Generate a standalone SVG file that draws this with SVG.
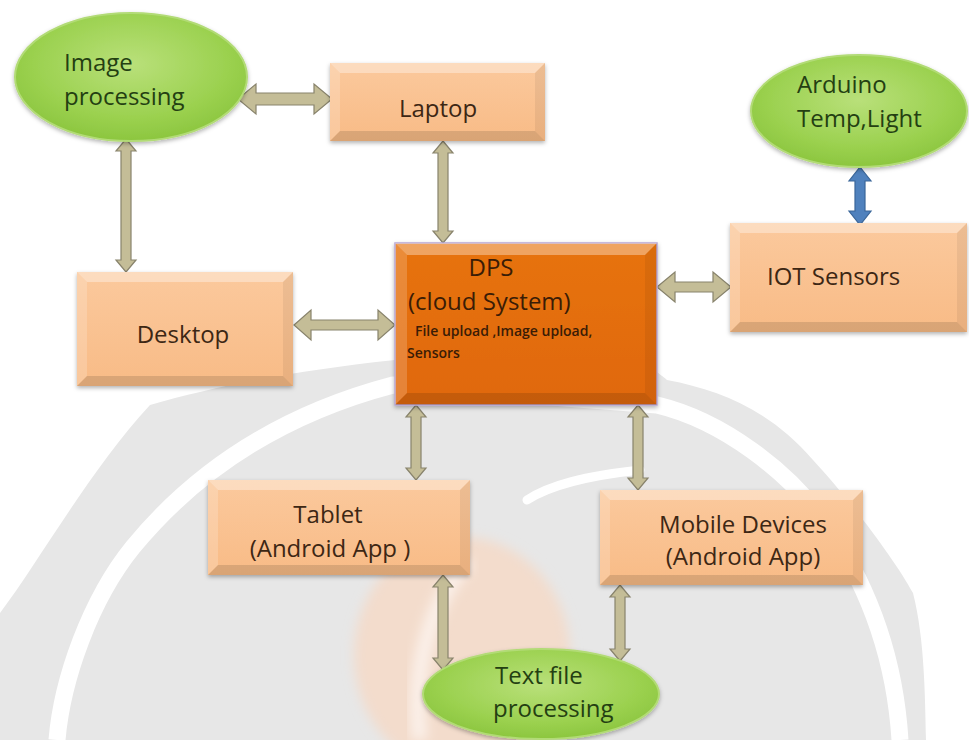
<svg xmlns="http://www.w3.org/2000/svg" width="969" height="740" viewBox="0 0 969 740">
  <defs>
    <linearGradient id="peach" x1="0" y1="0" x2="0" y2="1">
      <stop offset="0" stop-color="#fbc99d"/>
      <stop offset="1" stop-color="#f8bb86"/>
    </linearGradient>
    <linearGradient id="orange" x1="0" y1="0" x2="0" y2="1">
      <stop offset="0" stop-color="#e7730f"/>
      <stop offset="1" stop-color="#e06808"/>
    </linearGradient>
    <radialGradient id="green" cx="0.5" cy="0.4" r="0.6">
      <stop offset="0" stop-color="#b9e07a"/>
      <stop offset="0.7" stop-color="#9bd14f"/>
      <stop offset="1" stop-color="#8cc63f"/>
    </radialGradient>
    <filter id="shadow" x="-10%" y="-10%" width="120%" height="130%">
      <feDropShadow dx="0" dy="2" stdDeviation="2" flood-color="#000" flood-opacity="0.3"/>
    </filter>
    <filter id="soft" x="-20%" y="-20%" width="140%" height="140%">
      <feGaussianBlur stdDeviation="6"/>
    </filter>
  </defs>
  <style>
    .box { fill: url(#peach); }
    .core { fill: url(#orange); stroke: #b7a6d4; stroke-width: 1.5; }
    .oval { fill: url(#green); stroke: #b2db76; stroke-width: 2; }
    .bt { fill: #ffffff; fill-opacity: 0.35; }
    .bl { fill: #ffffff; fill-opacity: 0.18; }
    .bb { fill: #000000; fill-opacity: 0.12; }
    .br { fill: #000000; fill-opacity: 0.06; }
    .link { fill: #c4bd97; stroke: #88836c; stroke-width: 1.2; stroke-linejoin: miter; }
    .iot-link { fill: #4f81bd; stroke: #3a6699; stroke-width: 1.2; }
    text { font-family: "Open Sans", "Liberation Sans", sans-serif; font-size: 24px; }
    .t-box { fill: #3d2714; }
    .t-oval { fill: #243f12; }
    .t-core { fill: #3a1c06; }
    .t-small { font-size: 14px; font-weight: 600; }
  </style>

  <rect width="969" height="740" fill="#ffffff"/>

  <!-- faded emblem in the background -->
  <g id="backdrop">
    <path d="M 0 613 C 40 560 90 470 150 405 C 220 385 300 370 395 360 L 657 372 C 662 376 665 378 667 380 C 720 390 770 410 813 460 C 850 500 895 560 913 593 C 925 640 925 700 926 740 L 0 740 Z" fill="#e7e7e7"/>
    <path d="M 57 740 C 62 680 90 600 133 547 C 180 490 260 420 393 385 L 657 405 C 720 420 790 470 830 530 C 870 590 895 660 900 740" fill="none" stroke="#ffffff" stroke-width="17"/>
    <ellipse cx="462" cy="655" rx="108" ry="118" fill="#f3dccc" filter="url(#soft)"/>
    <path d="M 420 740 C 412 680 425 610 468 560" fill="none" stroke="#fbf0e9" stroke-width="16" filter="url(#soft)"/>
    <path d="M 527 500 C 550 485 585 476 640 470" fill="none" stroke="#ffffff" stroke-width="9" stroke-linecap="round"/>
  </g>

  <!-- connectors -->
  <g id="connectors">
    <path class="link" d="M238,99 L256,84 L256,93 L314,93 L314,84 L332,99 L314,114 L314,105 L256,105 L256,114 Z"/>
    <path class="link" d="M294,325 L311,310 L311,320 L378,320 L378,310 L395,325 L378,340 L378,330 L311,330 L311,340 Z"/>
    <path class="link" d="M657,287 L675,272 L675,282 L713,282 L713,272 L731,287 L713,302 L713,292 L675,292 L675,302 Z"/>
    <path class="link" d="M126,139 L136,151 L131,151 L131,260 L136,260 L126,272 L116,260 L121,260 L121,151 L116,151 Z"/>
    <path class="link" d="M443,141 L453,153 L448,153 L448,231 L453,231 L443,243 L433,231 L438,231 L438,153 L433,153 Z"/>
    <path class="link" d="M416,405 L426,417 L421,417 L421,468 L426,468 L416,480 L406,468 L411,468 L411,417 L406,417 Z"/>
    <path class="link" d="M638,405 L648,417 L643,417 L643,478 L648,478 L638,490 L628,478 L633,478 L633,417 L628,417 Z"/>
    <path class="link" d="M443,575 L453,587 L448,587 L448,658 L453,658 L443,670 L433,658 L438,658 L438,587 L433,587 Z"/>
    <path class="link" d="M620,585 L630,597 L625,597 L625,649 L630,649 L620,661 L610,649 L615,649 L615,597 L610,597 Z"/>
    <path class="iot-link" d="M860,167 L871,181 L865,181 L865,211 L871,211 L860,225 L849,211 L855,211 L855,181 L849,181 Z"/>
  </g>

  <!-- nodes -->
  <g id="image-processing">
    <ellipse class="oval" cx="131" cy="77" rx="116" ry="64" filter="url(#shadow)"/>
    <text class="t-oval" x="64" y="71">Image</text>
    <text class="t-oval" x="64" y="105">processing</text>
  </g>

  <g id="laptop">
    <rect class="box" x="330" y="63" width="215" height="78" filter="url(#shadow)"/>
    <polygon class="bt" points="330,63 545,63 535,73 340,73"/>
    <polygon class="bl" points="330,63 340,73 340,131 330,141"/>
    <polygon class="bb" points="330,141 340,131 535,131 545,141"/>
    <polygon class="br" points="545,63 545,141 535,131 535,73"/>
    <text class="t-box" x="438" y="117" text-anchor="middle">Laptop</text>
  </g>

  <g id="arduino">
    <ellipse class="oval" cx="859" cy="111" rx="108" ry="56" filter="url(#shadow)"/>
    <text class="t-oval" x="797" y="93">Arduino</text>
    <text class="t-oval" x="797" y="127">Temp,Light</text>
  </g>

  <g id="desktop">
    <rect class="box" x="77" y="272" width="216" height="114" filter="url(#shadow)"/>
    <polygon class="bt" points="77,272 293,272 283,282 87,282"/>
    <polygon class="bl" points="77,272 87,282 87,376 77,386"/>
    <polygon class="bb" points="77,386 87,376 283,376 293,386"/>
    <polygon class="br" points="293,272 293,386 283,376 283,282"/>
    <text class="t-box" x="183" y="343" text-anchor="middle">Desktop</text>
  </g>

  <g id="dps">
    <rect class="core" x="395" y="243" width="262" height="162" filter="url(#shadow)"/>
    <polygon class="bt" points="395,243 657,243 645,255 407,255"/>
    <polygon class="bl" points="395,243 407,255 407,393 395,405"/>
    <polygon class="bb" points="395,405 407,393 645,393 657,405"/>
    <polygon class="br" points="657,243 657,405 645,393 645,255"/>
    <text class="t-core" x="491" y="276" text-anchor="middle">DPS</text>
    <text class="t-core" x="408" y="310">(cloud System)</text>
    <text class="t-core t-small" x="415" y="336">File upload ,Image upload,</text>
    <text class="t-core t-small" x="407" y="358">Sensors</text>
  </g>

  <g id="iot-sensors">
    <rect class="box" x="730" y="223" width="237" height="109" filter="url(#shadow)"/>
    <polygon class="bt" points="730,223 967,223 957,233 740,233"/>
    <polygon class="bl" points="730,223 740,233 740,322 730,332"/>
    <polygon class="bb" points="730,332 740,322 957,322 967,332"/>
    <polygon class="br" points="967,223 967,332 957,322 957,233"/>
    <text class="t-box" x="767" y="285">IOT Sensors</text>
  </g>

  <g id="tablet">
    <rect class="box" x="208" y="480" width="262" height="95" filter="url(#shadow)"/>
    <polygon class="bt" points="208,480 470,480 460,490 218,490"/>
    <polygon class="bl" points="208,480 218,490 218,565 208,575"/>
    <polygon class="bb" points="208,575 218,565 460,565 470,575"/>
    <polygon class="br" points="470,480 470,575 460,565 460,490"/>
    <text class="t-box" x="328" y="523" text-anchor="middle">Tablet</text>
    <text class="t-box" x="330" y="557" text-anchor="middle">(Android App )</text>
  </g>

  <g id="mobile-devices">
    <rect class="box" x="600" y="490" width="263" height="95" filter="url(#shadow)"/>
    <polygon class="bt" points="600,490 863,490 853,500 610,500"/>
    <polygon class="bl" points="600,490 610,500 610,575 600,585"/>
    <polygon class="bb" points="600,585 610,575 853,575 863,585"/>
    <polygon class="br" points="863,490 863,585 853,575 853,500"/>
    <text class="t-box" x="743" y="533" text-anchor="middle">Mobile Devices</text>
    <text class="t-box" x="743" y="565" text-anchor="middle">(Android App)</text>
  </g>

  <g id="text-file-processing">
    <ellipse class="oval" cx="541" cy="694" rx="118" ry="45" filter="url(#shadow)"/>
    <text class="t-oval" x="495" y="684">Text file</text>
    <text class="t-oval" x="493" y="717">processing</text>
  </g>
</svg>
